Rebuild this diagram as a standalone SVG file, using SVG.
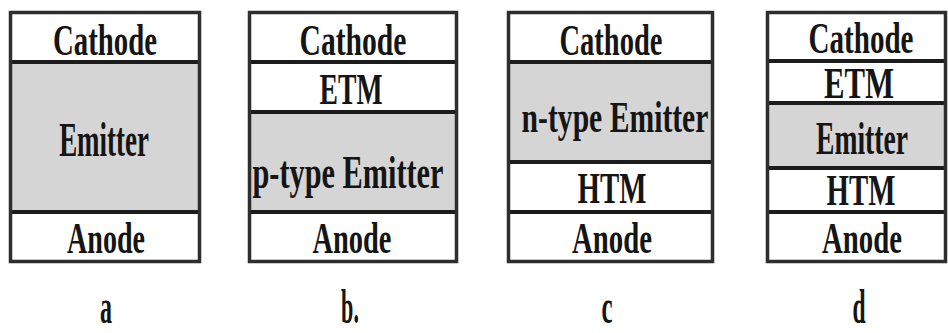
<svg xmlns="http://www.w3.org/2000/svg" width="948" height="333" viewBox="0 0 948 333">
  <style>
    .frame { fill: none; stroke: #2e2e2e; stroke-width: 3.5; }
    .sep { stroke: #1c1c1c; stroke-width: 4; }
    .layer-white { fill: #ffffff; }
    .layer-grey { fill: #d5d5d5; }
    text { font-family: "Liberation Serif", "Times New Roman", serif; font-size: 44px; font-weight: bold; fill: #151515; text-anchor: middle; }
    .big { font-size: 49px; }
    .mid { font-size: 47px; }
    .cap { font-size: 48px; }
  </style>
  <rect width="948" height="333" fill="#ffffff"/>

  <!-- a: single emitter layer -->
  <g id="stack-a">
    <rect class="layer-white" x="10" y="12" width="190" height="250"/>
    <rect class="layer-grey" x="10" y="62" width="190" height="150"/>
    <line class="sep" x1="10" y1="62" x2="200" y2="62"/>
    <line class="sep" x1="10" y1="212" x2="200" y2="212"/>
    <rect class="frame" x="10.5" y="12.5" width="189" height="249"/>
    <text transform="translate(105 55) scale(0.655 1)">Cathode</text>
    <text class="big" transform="translate(104 156) scale(0.55 1)">Emitter</text>
    <text transform="translate(106 253) scale(0.638 1)">Anode</text>
  </g>

  <!-- b: ETM over p-type emitter -->
  <g id="stack-b">
    <rect class="layer-white" x="249" y="12" width="208" height="250"/>
    <rect class="layer-grey" x="249" y="112" width="208" height="100"/>
    <line class="sep" x1="249" y1="62" x2="457" y2="62"/>
    <line class="sep" x1="249" y1="112" x2="457" y2="112"/>
    <line class="sep" x1="249" y1="212" x2="457" y2="212"/>
    <rect class="frame" x="249.5" y="12.5" width="207" height="249"/>
    <text transform="translate(353 55) scale(0.673 1)">Cathode</text>
    <text transform="translate(351 104) scale(0.629 1)">ETM</text>
    <text class="mid" transform="translate(348 188) scale(0.645 1)">p-type Emitter</text>
    <text transform="translate(352 253) scale(0.646 1)">Anode</text>
  </g>

  <!-- c: n-type emitter over HTM -->
  <g id="stack-c">
    <rect class="layer-white" x="508" y="12" width="205" height="250"/>
    <rect class="layer-grey" x="508" y="62" width="205" height="100"/>
    <line class="sep" x1="508" y1="62" x2="713" y2="62"/>
    <line class="sep" x1="508" y1="162" x2="713" y2="162"/>
    <line class="sep" x1="508" y1="212" x2="713" y2="212"/>
    <rect class="frame" x="508.5" y="12.5" width="204" height="249"/>
    <text transform="translate(611 55) scale(0.648 1)">Cathode</text>
    <text transform="translate(615 132) scale(0.674 1)">n-type Emitter</text>
    <text transform="translate(612 203) scale(0.656 1)">HTM</text>
    <text transform="translate(612 253) scale(0.655 1)">Anode</text>
  </g>

  <!-- d: ETM / emitter / HTM sandwich -->
  <g id="stack-d">
    <rect class="layer-white" x="767" y="12" width="179" height="250"/>
    <rect class="layer-grey" x="767" y="103" width="179" height="65"/>
    <line class="sep" x1="767" y1="61" x2="946" y2="61"/>
    <line class="sep" x1="767" y1="103" x2="946" y2="103"/>
    <line class="sep" x1="767" y1="168" x2="946" y2="168"/>
    <line class="sep" x1="767" y1="212" x2="946" y2="212"/>
    <rect class="frame" x="767.5" y="12.5" width="178" height="249"/>
    <text transform="translate(861 53) scale(0.661 1)">Cathode</text>
    <text transform="translate(859 98) scale(0.699 1)">ETM</text>
    <text class="mid" transform="translate(862 154) scale(0.588 1)">Emitter</text>
    <text transform="translate(861 205) scale(0.656 1)">HTM</text>
    <text transform="translate(862 253) scale(0.655 1)">Anode</text>
  </g>

  <!-- panel captions -->
  <g id="captions">
    <text class="cap" transform="translate(106 323) scale(0.5 1)">a</text>
    <text class="cap" transform="translate(350 323) scale(0.46 1)">b.</text>
    <text class="cap" transform="translate(607 323) scale(0.52 1)">c</text>
    <text class="cap" transform="translate(859 323) scale(0.49 1)">d</text>
  </g>
</svg>
